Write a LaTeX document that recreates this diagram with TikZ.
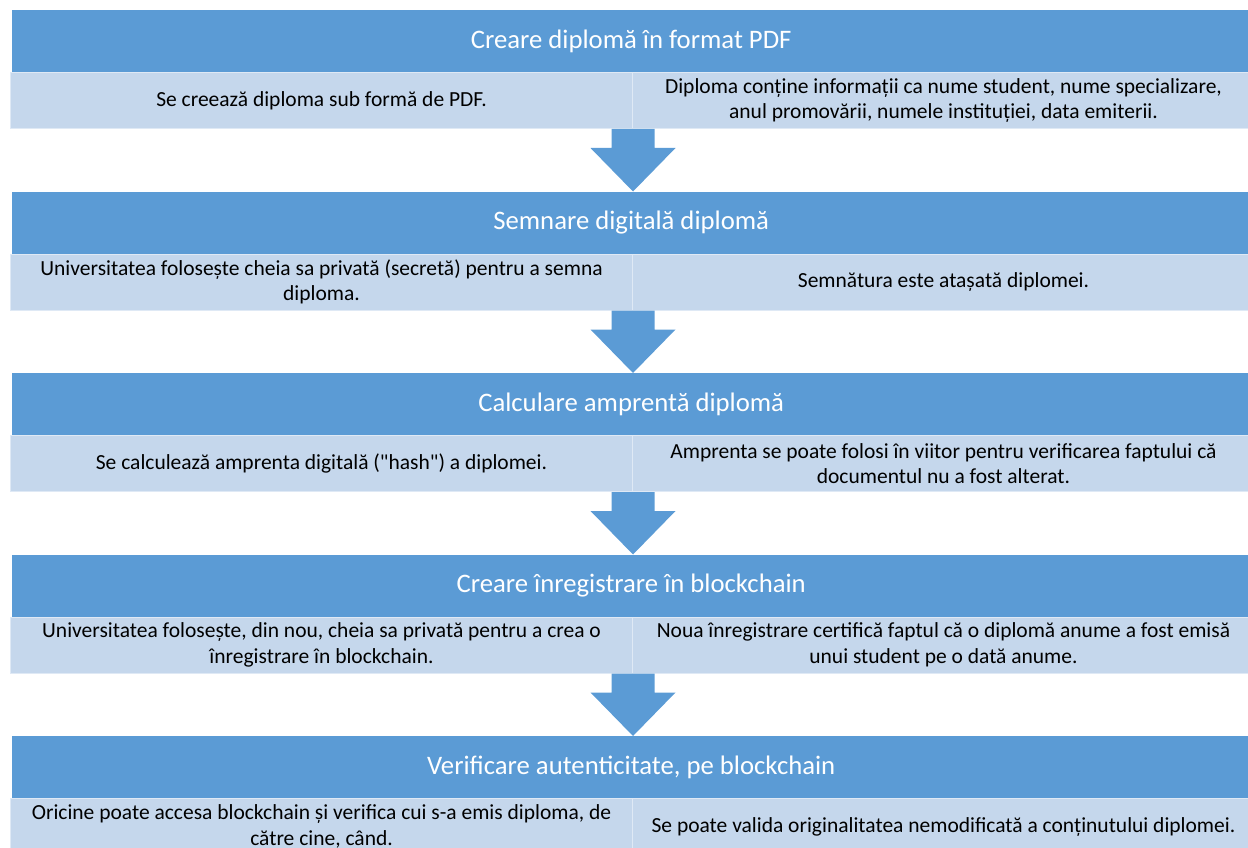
\documentclass[tikz,border=0pt]{standalone}
\usepackage{fontspec}
\setmainfont{Carlito}[Ligatures=TeXOff]
\usetikzlibrary{calc}
\definecolor{hdrblue}{RGB}{91,155,213}
\definecolor{subblue}{RGB}{197,215,236}
\tikzset{
  header/.style={fill=hdrblue, draw=none, text=white,
    font=\fontsize{26.7}{32}\selectfont, minimum width=1238pt,
    minimum height=62pt, anchor=north west, inner sep=0pt},
  detail/.style={fill=subblue, draw=white!45!subblue, line width=1pt,
    font=\fontsize{21.5}{25.5}\selectfont, align=center,
    minimum height=56pt, anchor=north west, inner sep=0pt},
  leftbox/.style={detail, minimum width=622pt},
  rightbox/.style={detail, minimum width=622pt},
  flowarrow/.style={fill=hdrblue, draw=none}
}
\begin{document}
\begin{tikzpicture}[x=1pt,y=-1pt]
  \useasboundingbox (0,0) rectangle (1248,848);
  \clip (0,0) rectangle (1248,848);

  % step 1
  \node[header] (h1) at (12,10) {Creare diplomă în format PDF};
  \node[leftbox] (l1) at (10,72) {Se creează diploma sub formă de PDF.};
  \node[rightbox] (r1) at (632,72) {Diploma conține informații ca nume student, nume specializare,\\anul promovării, numele instituției, data emiterii.};

  % step 2
  \node[header] (h2) at (12,191.5) {Semnare digitală diplomă};
  \node[leftbox] (l2) at (10,253.5) {Universitatea folosește cheia sa privată (secretă) pentru a semna\\diploma.};
  \node[rightbox] (r2) at (632,253.5) {Semnătura este atașată diplomei.};

  % step 3
  \node[header] (h3) at (12,373) {Calculare amprentă diplomă};
  \node[leftbox] (l3) at (10,435) {Se calculează amprenta digitală ("hash") a diplomei.};
  \node[rightbox] (r3) at (632,435) {Amprenta se poate folosi în viitor pentru verificarea faptului că\\documentul nu a fost alterat.};

  % step 4
  \node[header] (h4) at (12,554.5) {Creare înregistrare în blockchain};
  \node[leftbox] (l4) at (10,616.5) {Universitatea folosește, din nou, cheia sa privată pentru a crea o\\înregistrare în blockchain.};
  \node[rightbox] (r4) at (632,616.5) {Noua înregistrare certifică faptul că o diplomă anume a fost emisă\\unui student pe o dată anume.};

  % step 5
  \node[header] (h5) at (12,736) {Verificare autenticitate, pe blockchain};
  \node[leftbox] (l5) at (10,798) {Oricine poate accesa blockchain și verifica cui s-a emis diploma, de\\către cine, când.};
  \node[rightbox] (r5) at (632,798) {Se poate valida originalitatea nemodificată a conținutului diplomei.};

  % block arrows between steps
  \foreach \a/\b in {l1/h2, l2/h3, l3/h4, l4/h5} {
    \fill[flowarrow]
      ([xshift=-21.5pt]\a.south east) --
      ([xshift=-21.5pt,yshift=-19pt]\a.south east) --
      ([xshift=-42.5pt,yshift=-19pt]\a.south east) --
      (\a.south east |- \b.north) --
      ([xshift=42.5pt,yshift=-19pt]\a.south east) --
      ([xshift=21.5pt,yshift=-19pt]\a.south east) --
      ([xshift=21.5pt]\a.south east) -- cycle;
  }
\end{tikzpicture}
\end{document}
